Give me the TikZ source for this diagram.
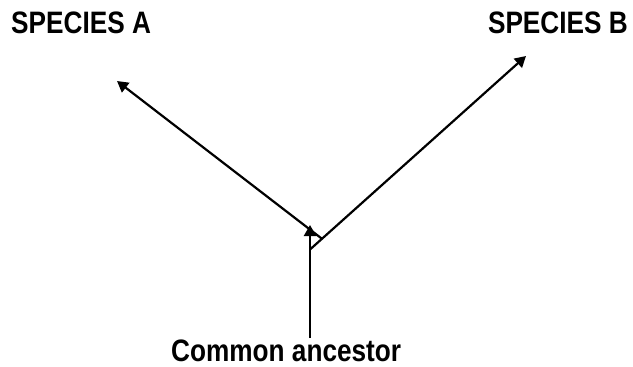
\documentclass[tikz,border=0pt]{standalone}
\usepackage{fontspec}
\setmainfont[FakeStretch=0.845]{Liberation Sans}
\usetikzlibrary{arrows.meta}
\tikzset{
  branch/.style={line width=2.2pt, -{Triangle[length=11pt,width=12pt]}},
  label/.style={font=\fontsize{31}{37}\selectfont\bfseries, inner sep=0pt},
}
\begin{document}
\begin{tikzpicture}[x=1pt, y=-1pt]
  \useasboundingbox (0,0) rectangle (633,367);
  % labels
  \node[label, anchor=base west] (spa) at (11,33) {SPECIES A};
  \node[label, anchor=base east] (spb) at (628,33) {SPECIES B};
  \node[label, anchor=base west] (anc) at (171,361) {Common ancestor};
  % branch points
  \coordinate (root) at (310,338);
  \coordinate (node) at (310,225);
  \coordinate (fork) at (310,249.5);
  \coordinate (split) at (322,238.8);
  \coordinate (tipA) at (117,81);
  \coordinate (tipB) at (526,56);
  % lineage and its two descendants
  \draw[branch] (root) -- (node);
  \draw[branch] (fork) -- (tipB);
  \draw[branch] (split) -- (tipA);
\end{tikzpicture}
\end{document}
